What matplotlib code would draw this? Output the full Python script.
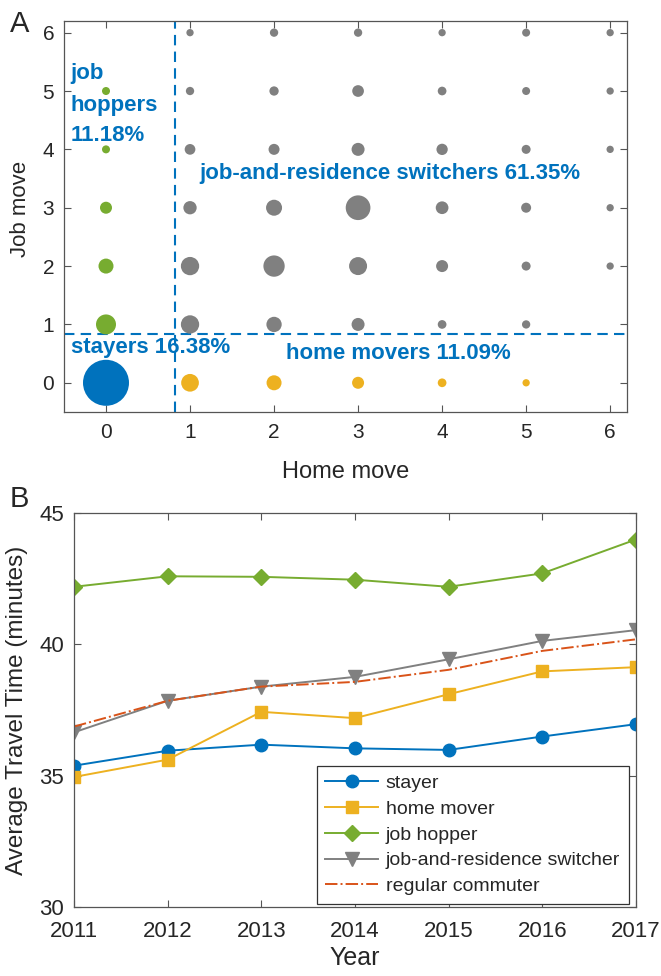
import matplotlib
matplotlib.use("Agg")
import matplotlib.pyplot as plt

plt.rcParams["font.family"] = ["Liberation Sans", "DejaVu Sans"]

# panel A: number of home moves (x) vs job moves (y); bubble magnitude per cell
home_moves = [0, 1, 2, 3, 4, 5, 6]
job_moves = [0, 1, 2, 3, 4, 5, 6]
bubble = [
    [46.0, 17.7, 15.0, 12.0, 8.7, 7.3, 0.0],
    [20.0, 18.3, 15.3, 13.0, 8.7, 8.3, 0.0],
    [15.0, 18.3, 21.3, 18.0, 12.0, 9.0, 7.3],
    [12.0, 13.3, 16.0, 24.7, 12.7, 10.0, 7.3],
    [8.0, 10.7, 11.0, 13.0, 11.3, 9.0, 7.3],
    [8.0, 8.3, 9.3, 11.7, 8.7, 8.0, 7.3],
    [0.0, 7.3, 8.3, 8.3, 7.3, 8.0, 7.3],
]
stayers_label = "stayers 16.38%"
home_label = "home movers 11.09%"
job_label = ["job", "hoppers", "11.18%"]
switch_label = "job-and-residence switchers 61.35%"

# panel B: average travel time by year
years = [2011, 2012, 2013, 2014, 2015, 2016, 2017]
stayer = [35.38, 35.95, 36.18, 36.04, 35.98, 36.49, 36.96]
home_mover = [34.95, 35.61, 37.43, 37.19, 38.10, 38.97, 39.13]
job_hopper = [42.19, 42.59, 42.57, 42.46, 42.19, 42.70, 43.99]
switcher = [36.65, 37.85, 38.39, 38.76, 39.43, 40.13, 40.54]
regular = [36.87, 37.85, 38.39, 38.57, 39.03, 39.75, 40.19]

BLUE = "#0072BD"
ORANGE = "#D95319"
YELLOW = "#EDB120"
GREEN = "#77AC30"
GRAY = "#808080"
AXC = "#555555"
TXT = "#262626"

fig = plt.figure(figsize=(6.61, 9.76), dpi=100)
ax1 = fig.add_axes([0.0968, 0.5779, 0.8517, 0.4006])
ax2 = fig.add_axes([0.112, 0.0707, 0.850, 0.4037])


def style_axes(ax, size, xpad):
    for sp in ax.spines.values():
        sp.set_color(AXC)
        sp.set_linewidth(0.9)
    ax.tick_params(direction="in", length=5, width=0.8, color=AXC,
                   labelcolor=TXT, labelsize=size, top=True, right=True)
    ax.tick_params(axis="x", pad=xpad)
    ax.tick_params(axis="y", pad=7)


# bubbles
xs, ys, ss, cs = [], [], [], []
for j in job_moves:
    for h in home_moves:
        d = bubble[j][h]
        if d <= 0:
            continue
        if h == 0 and j == 0:
            c = BLUE
        elif h == 0:
            c = GREEN
        elif j == 0:
            c = YELLOW
        else:
            c = GRAY
        xs.append(h)
        ys.append(j)
        ss.append((d * 0.72) ** 2)
        cs.append(c)
ax1.scatter(xs, ys, s=ss, c=cs, linewidths=0, zorder=3)

ax1.axvline(0.82, color=BLUE, lw=1.5, ls=(0, (5, 3)), zorder=2)
ax1.axhline(0.83, color=BLUE, lw=1.5, ls=(0, (5, 3)), zorder=2)

lab = dict(color=BLUE, fontsize=16, fontweight="bold", zorder=4,
           va="center", ha="left")
for line, yy in zip(job_label, [5.3, 4.76, 4.24]):
    ax1.text(-0.42, yy, line, **lab)
ax1.text(1.11, 3.59, switch_label, **lab)
ax1.text(-0.42, 0.6, stayers_label, **lab)
ax1.text(2.14, 0.51, home_label, **lab)

ax1.set_xlim(-0.5, 6.2)
ax1.set_ylim(-0.5, 6.2)
ax1.set_xticks(home_moves)
ax1.set_yticks(job_moves)
ax1.set_xlabel("Home move", fontsize=17, color=TXT)
ax1.set_ylabel("Job move", fontsize=16, color=TXT)
ax1.xaxis.set_label_coords(0.5, -0.125)
ax1.yaxis.set_label_coords(-0.058, 0.52)
style_axes(ax1, 15, 8)

# travel time lines
ax2.plot(years, stayer, color=BLUE, lw=1.4, marker="o", ms=9, label="stayer")
ax2.plot(years, home_mover, color=YELLOW, lw=1.4, marker="s", ms=8,
         label="home mover")
ax2.plot(years, job_hopper, color=GREEN, lw=1.4, marker="D", ms=8,
         label="job hopper")
ax2.plot(years, switcher, color=GRAY, lw=1.4, marker="v", ms=10,
         label="job-and-residence switcher")
ax2.plot(years, regular, color=ORANGE, lw=1.4, ls="-.",
         label="regular commuter")

ax2.set_xlim(2011, 2017)
ax2.set_ylim(30, 45)
ax2.set_xticks(years)
ax2.set_yticks([30, 35, 40, 45])
ax2.set_xlabel("Year", fontsize=18, color=TXT)
ax2.set_ylabel("Average Travel Time (minutes)", fontsize=17.5, color=TXT)
ax2.xaxis.set_label_coords(0.5, -0.1)
ax2.yaxis.set_label_coords(-0.082, 0.5)
style_axes(ax2, 16, 10)

leg = ax2.legend(loc="lower right", bbox_to_anchor=(0.9875, 0.008),
                 borderaxespad=0, fontsize=14, handlelength=2.7,
                 labelspacing=0.42, handletextpad=0.4, borderpad=0.45,
                 fancybox=False, framealpha=1)
leg.get_frame().set_edgecolor("#333333")
leg.get_frame().set_linewidth(0.9)
for t in leg.get_texts():
    t.set_color(TXT)

fig.text(0.015, 0.99, "A", fontsize=21, color=TXT, va="top", ha="left")
fig.text(0.015, 0.503, "B", fontsize=21, color=TXT, va="top", ha="left")

fig.savefig("out.png", dpi=100)
